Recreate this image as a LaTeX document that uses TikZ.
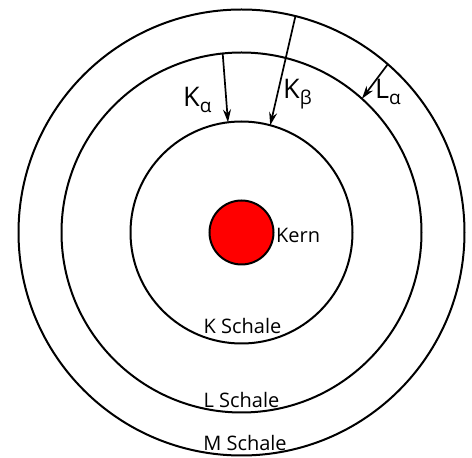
\documentclass[tikz,border=0pt]{standalone}
\usepackage{fontspec}
\setmainfont{Open Sans}
\usetikzlibrary{arrows.meta}
\newcommand{\subsc}[1]{\raisebox{-6pt}{\fontsize{19}{19}\selectfont #1}}
\begin{document}
\begin{tikzpicture}[x=1pt,y=1pt,
  shell/.style={circle, draw, line width=2pt, inner sep=0pt, outer sep=0pt},
  lbl/.style={font=\fontsize{20}{24}\selectfont, inner sep=0pt},
  big/.style={font=\fontsize{27}{30}\selectfont, inner sep=0pt},
  trans/.style={-{Stealth[length=13pt,width=8pt]}, line width=1.7pt}]
\useasboundingbox (0,0) rectangle (472,458);
\coordinate (c) at (241.5,225.5);
\node[shell, minimum size=446pt] (M) at (c) {};
\node[shell, minimum size=360pt] (L) at (c) {};
\node[shell, minimum size=222pt] (K) at (c) {};
\node[shell, minimum size=64pt, fill=red] (kern) at (c) {};
\node[lbl, anchor=base west] (kernlbl) at (276,215) {Kern};
\node[lbl, anchor=base] (klbl) at (242.5,124) {K Schale};
\node[lbl, anchor=base] (llbl) at (241.5,50.5) {L Schale};
\node[lbl, anchor=base] (mlbl) at (245,7.5) {M Schale};
\draw[trans] (L.96) -- (K.97.5);
\draw[trans] (M.76.2) -- (K.75.6);
\draw[trans] (M.49.4) -- (L.48.8);
\node[big, anchor=base west] (ka) at (183,351.3) {K\subsc{α}};
\node[big, anchor=base west] (kb) at (283,359) {K\subsc{β}};
\node[big, anchor=base west] (la) at (375,359) {L\subsc{α}};
\end{tikzpicture}
\end{document}
